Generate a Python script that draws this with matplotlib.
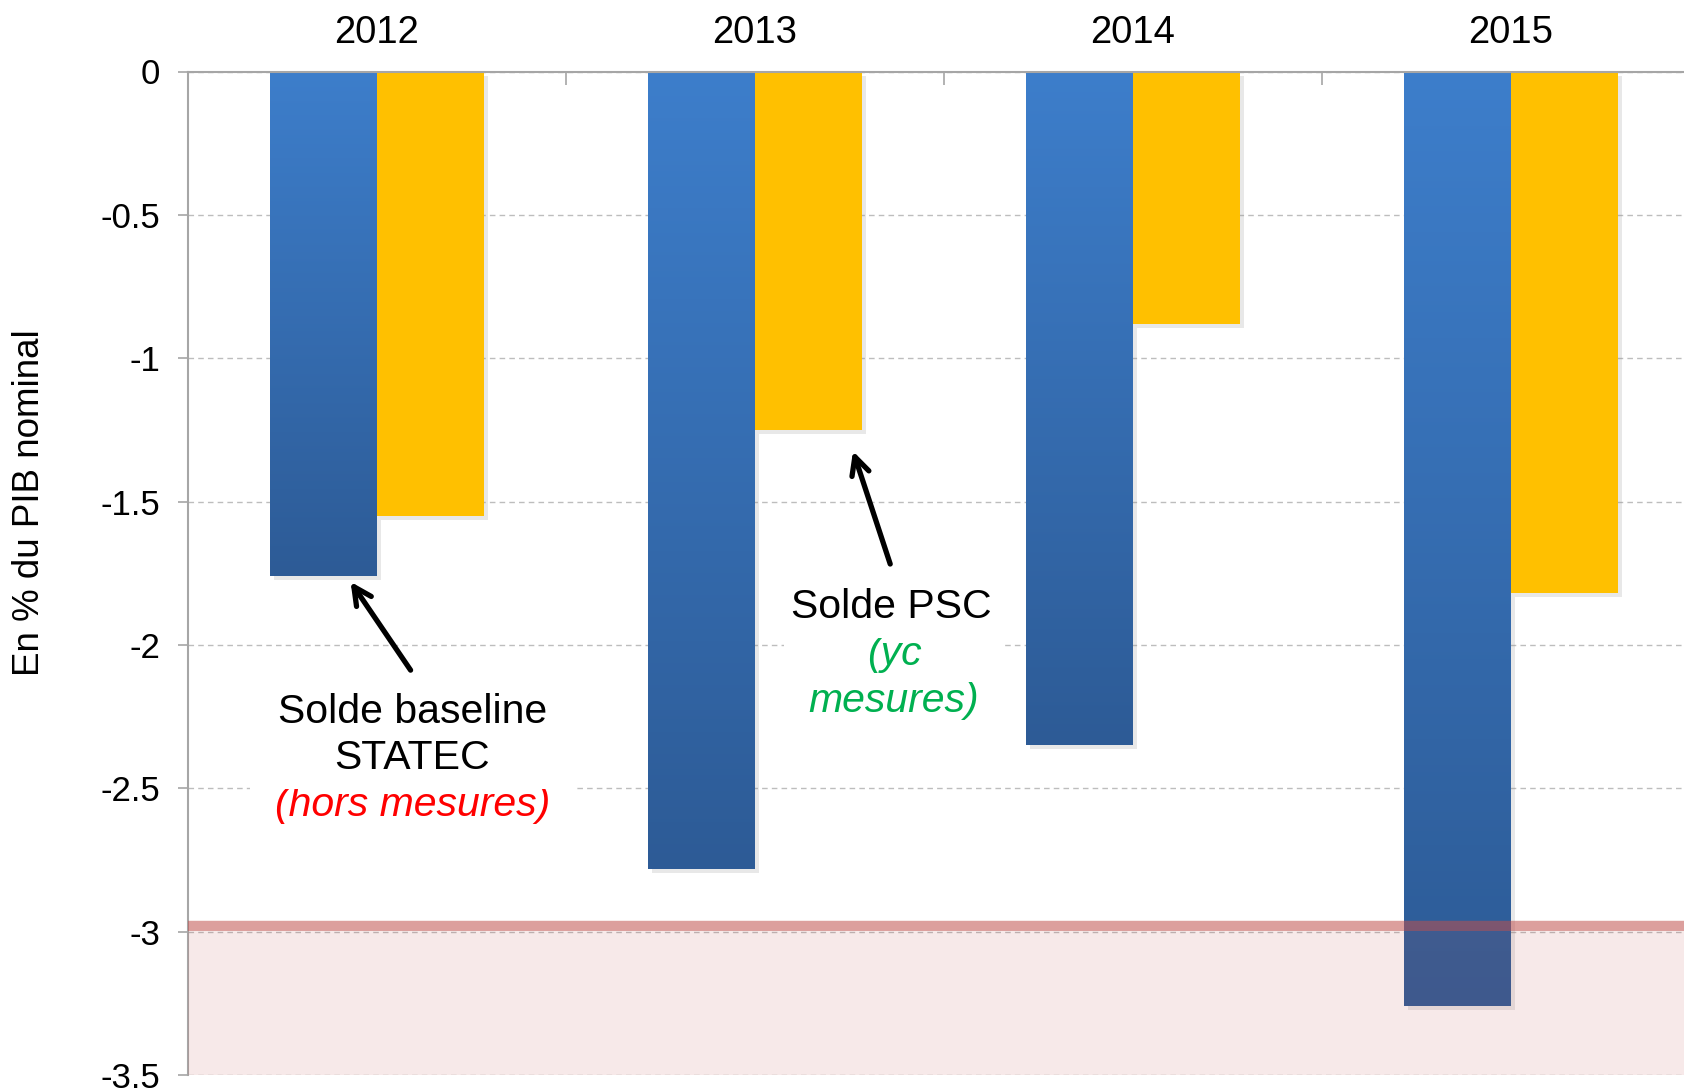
import numpy as np
import matplotlib
matplotlib.use("Agg")
import matplotlib.pyplot as plt
from matplotlib import patheffects as pe
from matplotlib.colors import LinearSegmentedColormap

# -- data (en % du PIB nominal) --
years = ["2012", "2013", "2014", "2015"]
baseline = [-1.76, -2.78, -2.35, -3.26]   # Solde baseline STATEC (hors mesures)
psc = [-1.55, -1.25, -0.88, -1.82]        # Solde PSC (yc mesures)
y_ticks = [0, -0.5, -1, -1.5, -2, -2.5, -3, -3.5]
y_tick_labels = ["0", "-0.5", "-1", "-1.5", "-2", "-2.5", "-3", "-3.5"]
threshold = -3.0

plt.rcParams["font.family"] = ["Liberation Sans", "DejaVu Sans"]

W, H = 1684, 1088
fig = plt.figure(figsize=(W / 100, H / 100), dpi=100)
# plot area runs slightly past the right edge of the picture, like the original slide
ax = fig.add_axes([188 / W, 13 / H, 1512 / W, 1003.5 / H])

x = np.arange(len(years))
w = 0.283
shadow = [pe.SimplePatchShadow(offset=(3, -3), shadow_rgbFace="#8c8c8c", alpha=0.2), pe.Normal()]

blue_bars = ax.bar(x - w / 2, baseline, width=w, color="#2f60a0", zorder=2, path_effects=shadow)
ax.bar(x + w / 2, psc, width=w, color="#ffc000", zorder=2, path_effects=shadow)

# vertical gradient on the blue bars
blue_cmap = LinearSegmentedColormap.from_list("blue_grad", ["#2d5b96", "#3d7ecb"])
grad = np.linspace(0, 1, 256).reshape(-1, 1)
for rect in blue_bars:
    x0 = rect.get_x()
    im = ax.imshow(grad, cmap=blue_cmap, origin="lower", aspect="auto",
                   extent=[x0, x0 + rect.get_width(), rect.get_height(), 0], zorder=2.1)
    im.set_clip_path(rect)

# 3% threshold zone
ax.axhspan(-3.5, threshold, color="#c0504d", alpha=0.12, lw=0, zorder=3)
ax.axhline(threshold + 0.018, color="#c0504d", alpha=0.55, lw=7.5, zorder=3.5)

ax.set_xlim(-0.5, len(years) - 0.5)
ax.set_ylim(-3.5, 0)

# axes styling
ax.xaxis.tick_top()
ax.set_xticks(x)
ax.set_xticklabels(years, fontsize=27.5)
ax.set_xticks(x[:-1] + 0.5, minor=True)
ax.tick_params(axis="x", which="major", length=0, pad=15)
ax.tick_params(axis="x", which="minor", direction="in", length=9, color="#a6a6a6", width=1.2)
ax.set_yticks(y_ticks)
ax.set_yticklabels(y_tick_labels, fontsize=25)
ax.tick_params(axis="y", length=7, color="#a6a6a6", width=1.2, pad=13)
ax.yaxis.grid(True, linestyle=(0, (4, 3)), color="#bdbdbd", lw=1, zorder=0.5)
ax.set_axisbelow(True)
for side in ("right", "bottom"):
    ax.spines[side].set_visible(False)
for side in ("left", "top"):
    ax.spines[side].set_color("#a6a6a6")
    ax.spines[side].set_linewidth(1.5)

fig.text(30 / W, 1 - 503 / H, "En % du PIB nominal", rotation=90,
         ha="center", va="center", fontsize=26.5)

# annotations
box = dict(boxstyle="square,pad=0.3", fc="white", ec="none")
wide_box = dict(boxstyle="square,pad=0.6", fc="white", ec="none")
ax.annotate("", xy=(-0.074, baseline[0] - 0.012), xytext=(0.093, -2.096),
            arrowprops=dict(arrowstyle="->", lw=3.8, color="black", mutation_scale=32), zorder=6)
ax.text(0.093, -2.315, "Solde baseline\nSTATEC", ha="center", va="center",
        fontsize=29.5, linespacing=1.25, bbox=box, zorder=6)
ax.text(0.093, -2.56, "(hors mesures)", ha="center", va="center", fontsize=29.5,
        style="italic", color="#ff0000", bbox=wide_box, zorder=5)

ax.annotate("", xy=(1.257, psc[1] - 0.065), xytext=(1.36, -1.727),
            arrowprops=dict(arrowstyle="->", lw=3.8, color="black", mutation_scale=32), zorder=6)
ax.text(1.36, -1.866, "Solde PSC", ha="center", va="center", fontsize=29.5,
        bbox=box, zorder=6)
ax.text(1.368, -2.115, "(yc\nmesures)", ha="center", va="center", fontsize=29.5,
        style="italic", color="#00b050", linespacing=1.3, bbox=wide_box, zorder=5)

fig.savefig("out.png", dpi=100)
